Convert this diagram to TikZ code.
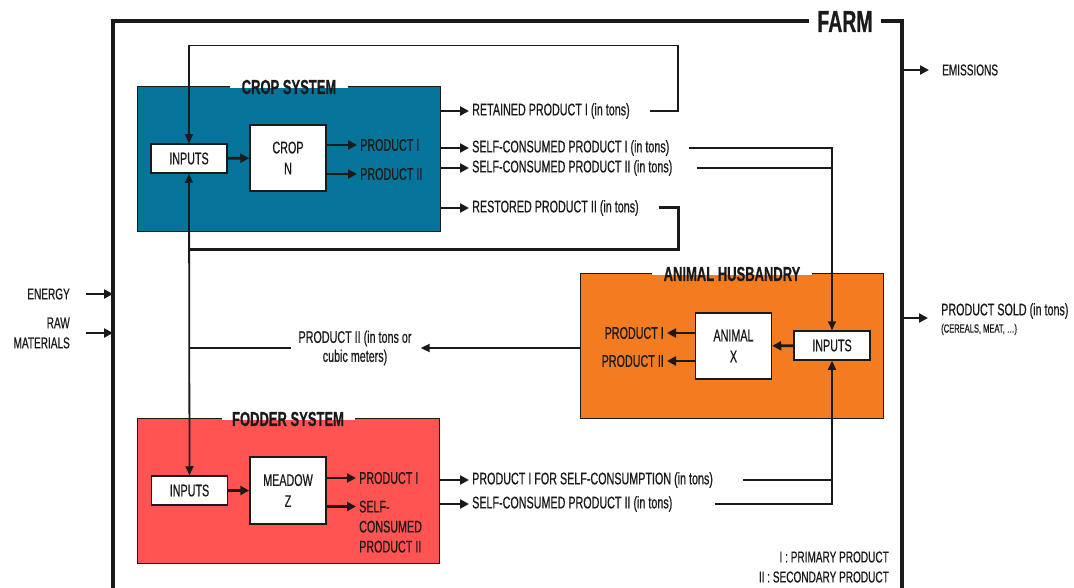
\documentclass[tikz,border=0pt]{standalone}
\usepackage{fontspec}
\setmainfont{Liberation Sans}[FakeStretch=0.64,FakeBold=0.6]
\usetikzlibrary{arrows.meta}
\definecolor{cropc}{HTML}{04749A}
\definecolor{animc}{HTML}{F47C20}
\definecolor{fodc}{HTML}{FF5451}
\definecolor{ink}{HTML}{1A1A1A}
\begin{document}
\begin{tikzpicture}[x=1pt,y=-1pt,
  txt/.style={inner sep=0pt, text=ink, font=\fontsize{16.8}{19}\selectfont},
  side/.style={inner sep=0pt, text=ink, font=\fontsize{15.7}{20}\selectfont},
  small/.style={inner sep=0pt, text=ink, font=\fontsize{11.8}{12}\selectfont},
  title/.style={inner sep=0pt, text=ink, font=\fontsize{20.3}{22}\selectfont\bfseries},
  sysbox/.style={draw=ink, line width=1.3pt, anchor=north west},
  wbox/.style={draw=ink, fill=white, line width=1.5pt, align=center, inner sep=0pt, text=ink, font=\fontsize{16.8}{21}\selectfont},
  arr/.style={draw=ink, line width=2.8pt, -{Triangle[length=9pt,width=9pt]}},
  conn/.style={draw=ink, line width=1.8pt},
  tip/.style={-{Triangle[length=9pt,width=8pt]}},
  frame/.style={draw=ink, line width=4pt},
]
\useasboundingbox (0,0) rectangle (1074,588);
\clip (0,0) rectangle (1074,588);

% ---------- FARM frame ----------
\node[inner sep=0pt, text=ink, font=\fontsize{30.4}{32}\selectfont\bfseries] (farm) at (845,21.5) {FARM};
\coordinate (fbl) at (113,600);
\coordinate (fbr) at (902,600);
\coordinate (fl) at (113,0);
\coordinate (fr) at (902,0);
\draw[frame] ([xshift=-8pt]farm.west) -| (fbl);
\draw[frame] ([xshift=8pt]farm.east) -| (fbr);

% ---------- CROP SYSTEM ----------
\node[sysbox, fill=cropc, minimum width=303pt, minimum height=145pt] (crop) at (137,86) {};
\fill[white] (230,84.3) rectangle (348,88.2);
\node[title] (ctitle) at (289,87) {CROP SYSTEM};
\node[wbox, minimum width=76pt, minimum height=29pt] (cin) at (189,158.5) {INPUTS};
\node[wbox, minimum width=76pt, minimum height=66pt] (cropn) at (288,158) {CROP\\N};
\node[txt, anchor=west] (cp1) at (360,145) {PRODUCT I};
\node[txt, anchor=west] (cp2) at (360,174) {PRODUCT II};
\draw[arr] (cin) -- (cropn);
\draw[arr] (cropn.east |- cp1) -- ([xshift=-3pt]cp1.west);
\draw[arr] (cropn.east |- cp2) -- ([xshift=-3pt]cp2.west);

\node[txt, anchor=west] (ret) at (472,111) {RETAINED PRODUCT I (in tons)};
\node[txt, anchor=west] (sc1) at (472,148) {SELF-CONSUMED PRODUCT I (in tons)};
\node[txt, anchor=west] (sc2) at (472,168) {SELF-CONSUMED PRODUCT II (in tons)};
\node[txt, anchor=west] (rst) at (472,208) {RESTORED PRODUCT II (in tons)};
\draw[arr] (crop.east |- ret) -- ([xshift=-3pt]ret.west);
\draw[arr] (crop.east |- sc1) -- ([xshift=-3pt]sc1.west);
\draw[arr] (crop.east |- sc2) -- ([xshift=-3pt]sc2.west);
\draw[arr] (crop.east |- rst) -- ([xshift=-3pt]rst.west);

% ---------- ANIMAL HUSBANDRY ----------
\node[sysbox, fill=animc, minimum width=303pt, minimum height=145pt] (anim) at (580,273) {};
\fill[white] (652,271.3) rectangle (812,275.2);
\node[title] (atitle) at (732,274) {ANIMAL HUSBANDRY};
\node[wbox, minimum width=76pt, minimum height=29pt] (ain) at (832,345.5) {INPUTS};
\node[wbox, minimum width=76pt, minimum height=66pt] (anx) at (733.5,346) {ANIMAL\\X};
\node[txt, anchor=east] (ap1) at (664,333) {PRODUCT I};
\node[txt, anchor=east] (ap2) at (664,361) {PRODUCT II};
\draw[arr] (ain) -- (anx);
\draw[arr] (anx.west |- ap1) -- ([xshift=3pt]ap1.east);
\draw[arr] (anx.west |- ap2) -- ([xshift=3pt]ap2.east);

% ---------- FODDER SYSTEM ----------
\node[sysbox, fill=fodc, minimum width=302pt, minimum height=145pt] (fod) at (137,418) {};
\fill[white] (222,416.3) rectangle (355,420.2);
\node[title] (ftitle) at (288,419) {FODDER SYSTEM};
\node[wbox, minimum width=76pt, minimum height=29pt] (fin) at (189.5,490.5) {INPUTS};
\node[wbox, minimum width=76pt, minimum height=67pt] (mdw) at (288,490.5) {MEADOW\\Z};
\node[txt, anchor=west] (fp1) at (359,478) {PRODUCT I};
\node[txt, anchor=north west, align=left, font=\fontsize{16.8}{20}\selectfont] (fsc) at (359,500.5) {SELF-\\CONSUMED\\PRODUCT II};
\coordinate (fscA) at ([yshift=-6pt]fsc.north west);
\draw[arr] (fin) -- (mdw);
\draw[arr] (mdw.east |- fp1) -- ([xshift=-3pt]fp1.west);
\draw[arr] (mdw.east |- fscA) -- ([xshift=-3pt]fscA);

\node[txt, anchor=west] (fo1) at (472,480) {PRODUCT I FOR SELF-CONSUMPTION (in tons)};
\node[txt, anchor=west] (fo2) at (472,504) {SELF-CONSUMED PRODUCT II (in tons)};
\draw[arr] (fod.east |- fo1) -- ([xshift=-3pt]fo1.west);
\draw[arr] (fod.east |- fo2) -- ([xshift=-3pt]fo2.west);

% ---------- connectors ----------
\coordinate (looptop) at (678,45.5);
\coordinate (loopbot) at (678,250);
\draw[conn, tip] ([xshift=20pt]ret.east) -| (looptop) -| (cin.north);
\draw[draw=ink, line width=3pt] ([xshift=20pt]rst.east) -| (loopbot) -- (loopbot -| cin.south);
\draw[conn, {Triangle[length=9pt,width=8pt]}-{Triangle[length=9pt,width=8pt]}] (cin.south) -- (fin.north);

\draw[conn, tip] ([xshift=19pt]sc1.east) -| (ain.north);
\draw[conn] ([xshift=24pt]sc2.east) -- (sc2 -| ain.north);
\draw[conn, tip] ([xshift=42pt]fo2.east) -| (ain.south);
\draw[conn] ([xshift=30pt]fo1.east) -- (fo1 -| ain.south);

\node[txt, align=center] (p2) at (355,348) {PRODUCT II (in tons or\\cubic meters)};
\draw[conn] (cin.south |- p2) -- ([xshift=-7pt]p2.west);
\draw[conn, tip] (anim.west |- p2) -- ([xshift=9pt]p2.east);

% ---------- outside ----------
\node[side, anchor=east] (en) at (70,294) {ENERGY};
\node[side, anchor=east, align=right] (raw) at (70,333) {RAW\\MATERIALS};
\draw[arr] ([xshift=16pt]en.east) -- (en -| fl);
\draw[arr] ([xshift=16pt]raw.east) -- (raw -| fl);

\node[side, anchor=west] (em) at (942,70) {EMISSIONS};
\draw[arr] (fr |- em) -- ([xshift=-13pt]em.west);
\node[txt, anchor=west] (ps) at (941,311) {PRODUCT SOLD (in tons)};
\node[small, anchor=west] (psx) at (941,329.5) {(CEREALS, MEAT, …)};
\coordinate (psa) at (928,318);
\draw[arr] (fr |- psa) -- (psa);

\node[side, anchor=east] (lg1) at (889,557) {I : PRIMARY PRODUCT};
\node[side, anchor=east] (lg2) at (889,577) {II : SECONDARY PRODUCT};
\end{tikzpicture}
\end{document}
